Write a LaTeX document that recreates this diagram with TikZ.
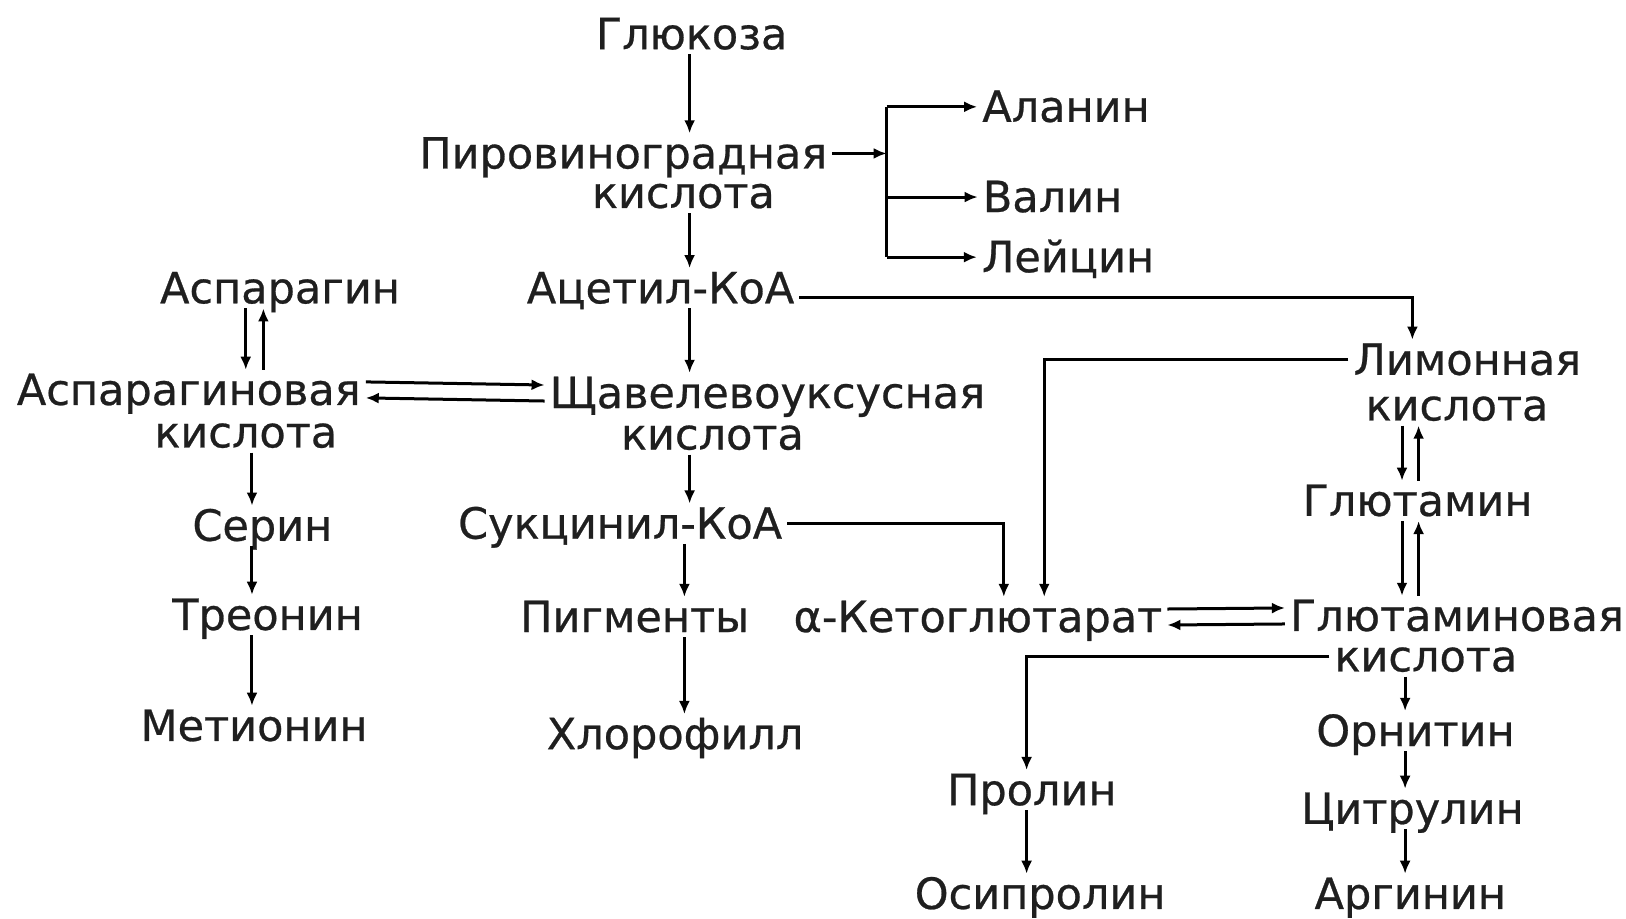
\documentclass[tikz,border=0pt]{standalone}
\usepackage{fontspec}
\setmainfont{DejaVu Sans}[FakeBold=0.6]
\usetikzlibrary{arrows.meta}
\tikzset{
  lbl/.style={font=\fontsize{43}{43}\selectfont, text=black!88, text height=30pt, text depth=0pt, inner xsep=5pt, inner ysep=5pt, anchor=center},
  arr/.style={line width=3pt, -{Latex[length=13pt,width=11pt]}},
  ln/.style={line width=3pt}
}
\begin{document}
\begin{tikzpicture}[x=1.037pt,y=-1.037pt]
\fill[white] (0,0) rectangle (1568,886);
\useasboundingbox (0,0) rectangle (1568,886);
% column coordinates
\coordinate (cM) at (665,0);
\coordinate (cP) at (660,0);
\coordinate (bx) at (855,0);
\coordinate (cLx) at (1362,0);
\coordinate (L1) at (1352,0);
\coordinate (L2) at (1368,0);
\coordinate (K1) at (968,0);
\coordinate (K2) at (1007,0);
\coordinate (P1) at (990,0);
\coordinate (O1) at (1355,0);
\coordinate (A1) at (237,0);
\coordinate (A2) at (254,0);
\coordinate (A3) at (243,0);
% nodes
\node[lbl] (glu) at (667,33) {Глюкоза};
\node[lbl] (pyr1) at (601,148) {Пировиноградная};
\node[lbl] (pyr2) at (659,186) {кислота};
\node[lbl] (acet) at (637,278) {Ацетил-КоА};
\node[lbl] (oxa1) at (740,379) {Щавелевоуксусная};
\node[lbl] (oxa2) at (687,419) {кислота};
\node[lbl] (succ) at (598,505) {Сукцинил-КоА};
\node[lbl] (pigm) at (612,595) {Пигменты};
\node[lbl] (chl) at (651,708) {Хлорофилл};
\node[lbl] (ala) at (1028,103) {Аланин};
\node[lbl] (val) at (1015,190) {Валин};
\node[lbl] (leu) at (1030,248) {Лейцин};
\node[lbl] (cit1) at (1415,347) {Лимонная};
\node[lbl] (cit2) at (1405,391) {кислота};
\node[lbl] (gln) at (1367,483) {Глютамин};
\node[lbl] (glu1) at (1405,594) {Глютаминовая};
\node[lbl] (glu2) at (1375,633) {кислота};
\node[lbl] (akg) at (943,595) {α-Кетоглютарат};
\node[lbl] (pro) at (995,762) {Пролин};
\node[lbl] (hyp) at (1003,862) {Осипролин};
\node[lbl] (orn) at (1365,705) {Орнитин};
\node[lbl] (citr) at (1362,780) {Цитрулин};
\node[lbl] (arg) at (1360,862) {Аргинин};
\node[lbl] (asn) at (270,278) {Аспарагин};
\node[lbl] (asp1) at (182,376) {Аспарагиновая};
\node[lbl] (asp2) at (237,417) {кислота};
\node[lbl] (ser) at (253,507) {Серин};
\node[lbl] (thr) at (258,593) {Треонин};
\node[lbl] (met) at (245,700) {Метионин};
% main column
\draw[arr] (glu.south -| cM) -- (pyr1.north -| cM);
\draw[arr] (pyr2.south -| cM) -- (acet.north -| cM);
\draw[arr] (acet.south -| cM) -- (oxa1.north -| cM);
\draw[arr] (oxa2.south -| cM) -- (succ.north -| cM);
\draw[arr] (succ.south -| cP) -- (pigm.north -| cP);
\draw[arr] (pigm.south -| cP) -- (chl.north -| cP);
% pyruvate branch
\draw[arr] (pyr1.east) -- (pyr1.east -| bx);
\draw[ln] (ala.west -| bx) -- (leu.west -| bx);
\draw[arr] (ala.west -| bx) -- (ala.west);
\draw[arr] (val.west -| bx) -- (val.west);
\draw[arr] (leu.west -| bx) -- (leu.west);
% acetyl to citric
\draw[arr] ([yshift=-9pt]acet.east) -| (cit1.north -| cLx);
\draw[arr] (cit2.south -| L1) -- (gln.north -| L1);
\draw[arr] (gln.north -| L2) -- (cit2.south -| L2);
\draw[arr] (gln.south -| L1) -- (glu1.north -| L1);
\draw[arr] (glu1.north -| L2) -- (gln.south -| L2);
% ketoglutarate
\draw[arr] (succ.east) -| (akg.north -| K1);
\draw[arr] (cit1.west) -| (akg.north -| K2);
\draw[arr] ([yshift=8pt]akg.east) -- ([yshift=8pt]glu1.west);
\draw[arr] ([yshift=-8pt]glu1.west) -- ([yshift=-8pt]akg.east);
% proline
\draw[arr] (glu2.west) -| (pro.north -| P1);
\draw[arr] (pro.south -| P1) -- (hyp.north -| P1);
% ornithine chain
\draw[arr] (glu2.south -| O1) -- (orn.north -| O1);
\draw[arr] (orn.south -| O1) -- (citr.north -| O1);
\draw[arr] (citr.south -| O1) -- (arg.north -| O1);
% aspartate
\draw[arr] (asn.south -| A1) -- (asp1.north -| A1);
\draw[arr] (asp1.north -| A2) -- (asn.south -| A2);
\draw[arr] ([yshift=8pt]asp1.east) -- ([yshift=8pt]oxa1.west);
\draw[arr] ([yshift=-8pt]oxa1.west) -- ([yshift=-8pt]asp1.east);
\draw[arr] (asp2.south -| A3) -- (ser.north -| A3);
\draw[arr] (ser.south -| A3) -- (thr.north -| A3);
\draw[arr] (thr.south -| A3) -- (met.north -| A3);
\end{tikzpicture}
\end{document}
